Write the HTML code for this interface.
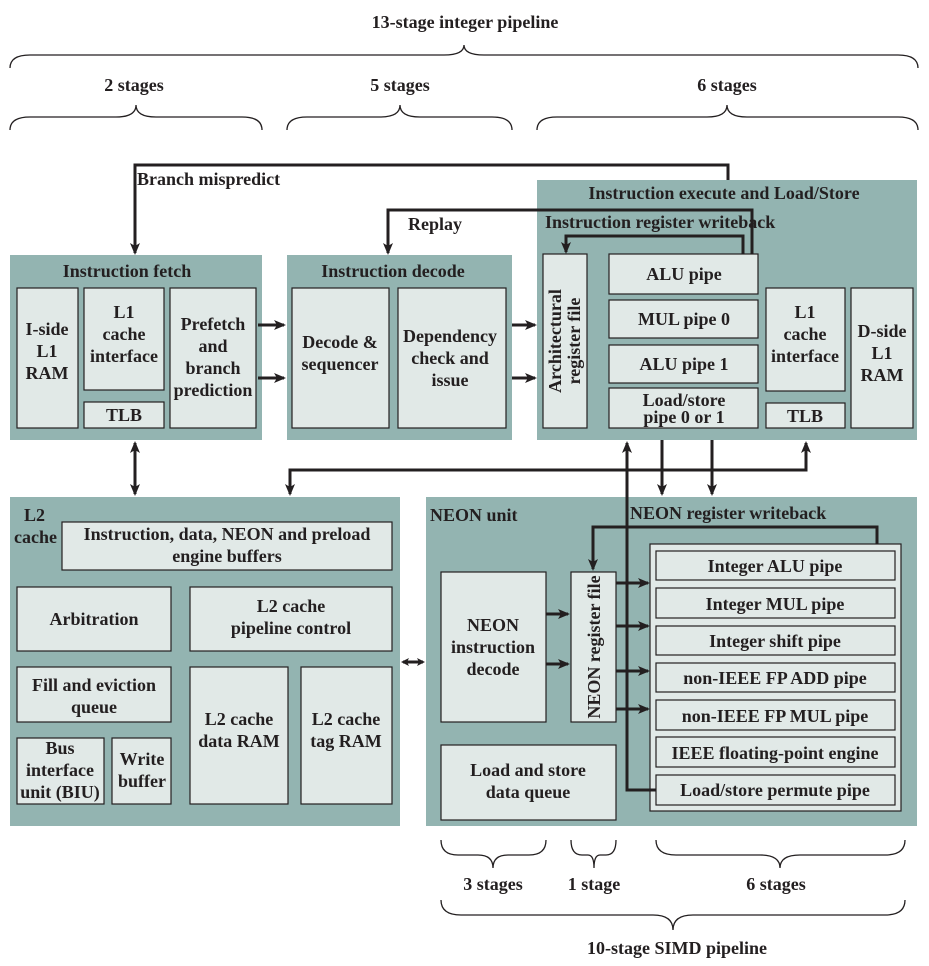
<!DOCTYPE html>
<html><head><meta charset="utf-8"><style>
body{margin:0;background:#fff}
svg{display:block}
text{font-family:"Liberation Serif",serif;font-weight:bold;font-size:18px;fill:#231f20}
.c{fill:#93b4b1}
.b{fill:#e1e9e7;stroke:#231f20;stroke-width:1.2}
.l{fill:none;stroke:#231f20;stroke-width:3}
.br{fill:none;stroke:#231f20;stroke-width:1.3}
</style></head><body>
<svg width="929" height="966" viewBox="0 0 929 966" xmlns="http://www.w3.org/2000/svg">
<defs><marker id="a" markerWidth="8" markerHeight="8" refX="6" refY="4" orient="auto-start-reverse" markerUnits="userSpaceOnUse"><path d="M0,0 L8,4 L0,8 L2,4z" fill="#231f20"/></marker>
<marker id="s" markerWidth="12" markerHeight="10" refX="10" refY="5" orient="auto-start-reverse" markerUnits="userSpaceOnUse"><path d="M0,0 L12,5 L0,10 L3,5z" fill="#231f20"/></marker></defs>

<text x="465" y="28" text-anchor="middle">13-stage integer pipeline</text>
<path class="br" d="M10 68 Q10 55 30 55 L444 55 Q464 55 464 45 Q464 55 484 55 L898 55 Q918 55 918 68"/>
<text x="134" y="91" text-anchor="middle">2 stages</text>
<path class="br" d="M10 130 Q10 117 30 117 L116 117 Q136 117 136 105 Q136 117 156 117 L242 117 Q262 117 262 130"/>
<text x="400" y="91" text-anchor="middle">5 stages</text>
<path class="br" d="M287 130 Q287 117 307 117 L380 117 Q400 117 400 105 Q400 117 420 117 L492 117 Q512 117 512 130"/>
<text x="727" y="91" text-anchor="middle">6 stages</text>
<path class="br" d="M537 130 Q537 117 557 117 L707 117 Q727 117 727 105 Q727 117 747 117 L898 117 Q918 117 918 130"/>

<rect class="c" x="10" y="255" width="252" height="185"/>
<rect class="c" x="287" y="255" width="225" height="185"/>
<rect class="c" x="537" y="180" width="380" height="260"/>
<rect class="c" x="10" y="497" width="390" height="329"/>
<rect class="c" x="426" y="497" width="491" height="329"/>

<text x="127" y="277" text-anchor="middle">Instruction fetch</text>
<text x="393" y="277" text-anchor="middle">Instruction decode</text>
<text x="724" y="199" text-anchor="middle">Instruction execute and Load/Store</text>
<text x="545" y="228">Instruction register writeback</text>
<text x="408" y="230">Replay</text>
<text x="137" y="185">Branch mispredict</text>

<rect class="b" x="17" y="288" width="61" height="140"/>
<text x="47" y="335" text-anchor="middle">I-side</text><text x="47" y="357" text-anchor="middle">L1</text><text x="47" y="379" text-anchor="middle">RAM</text>
<rect class="b" x="84" y="288" width="80" height="102"/>
<text x="124" y="318" text-anchor="middle">L1</text><text x="124" y="340" text-anchor="middle">cache</text><text x="124" y="362" text-anchor="middle">interface</text>
<rect class="b" x="84" y="402" width="80" height="26"/>
<text x="124" y="421" text-anchor="middle">TLB</text>
<rect class="b" x="170" y="288" width="86" height="140"/>
<text x="213" y="330" text-anchor="middle">Prefetch</text><text x="213" y="352" text-anchor="middle">and</text><text x="213" y="374" text-anchor="middle">branch</text><text x="213" y="396" text-anchor="middle">prediction</text>

<rect class="b" x="292" y="288" width="97" height="140"/>
<text x="340" y="348" text-anchor="middle">Decode &amp;</text><text x="340" y="370" text-anchor="middle">sequencer</text>
<rect class="b" x="398" y="288" width="108" height="140"/>
<text x="450" y="342" text-anchor="middle">Dependency</text><text x="450" y="364" text-anchor="middle">check and</text><text x="450" y="386" text-anchor="middle">issue</text>

<rect class="b" x="543" y="254" width="44" height="174"/>
<text transform="translate(561,341) rotate(-90)" text-anchor="middle">Architectural</text>
<text transform="translate(580,341) rotate(-90)" text-anchor="middle">register file</text>
<rect class="b" x="609" y="254" width="149" height="40"/><text x="684" y="280" text-anchor="middle">ALU pipe</text>
<rect class="b" x="609" y="300" width="149" height="38"/><text x="684" y="325" text-anchor="middle">MUL pipe 0</text>
<rect class="b" x="609" y="345" width="149" height="38"/><text x="684" y="370" text-anchor="middle">ALU pipe 1</text>
<rect class="b" x="609" y="388" width="149" height="40"/><text x="684" y="406" text-anchor="middle">Load/store</text><text x="684" y="423" text-anchor="middle">pipe 0 or 1</text>
<rect class="b" x="766" y="288" width="79" height="103"/>
<text x="805" y="318" text-anchor="middle">L1</text><text x="805" y="340" text-anchor="middle">cache</text><text x="805" y="362" text-anchor="middle">interface</text>
<rect class="b" x="766" y="403" width="79" height="25"/><text x="805" y="422" text-anchor="middle">TLB</text>
<rect class="b" x="851" y="288" width="62" height="140"/>
<text x="882" y="337" text-anchor="middle">D-side</text><text x="882" y="359" text-anchor="middle">L1</text><text x="882" y="381" text-anchor="middle">RAM</text>

<text x="24" y="521">L2</text><text x="14" y="543">cache</text>
<rect class="b" x="62" y="522" width="330" height="48"/>
<text x="227" y="540" text-anchor="middle">Instruction, data, NEON and preload</text>
<text x="227" y="562" text-anchor="middle">engine buffers</text>
<rect class="b" x="17" y="587" width="154" height="64"/><text x="94" y="625" text-anchor="middle">Arbitration</text>
<rect class="b" x="190" y="587" width="202" height="64"/><text x="291" y="612" text-anchor="middle">L2 cache</text><text x="291" y="634" text-anchor="middle">pipeline control</text>
<rect class="b" x="17" y="667" width="154" height="55"/><text x="94" y="691" text-anchor="middle">Fill and eviction</text><text x="94" y="713" text-anchor="middle">queue</text>
<rect class="b" x="190" y="667" width="98" height="137"/><text x="239" y="725" text-anchor="middle">L2 cache</text><text x="239" y="747" text-anchor="middle">data RAM</text>
<rect class="b" x="301" y="667" width="91" height="137"/><text x="346" y="725" text-anchor="middle">L2 cache</text><text x="346" y="747" text-anchor="middle">tag RAM</text>
<rect class="b" x="17" y="738" width="87" height="66"/><text x="60" y="754" text-anchor="middle">Bus</text><text x="60" y="776" text-anchor="middle">interface</text><text x="60" y="798" text-anchor="middle">unit (BIU)</text>
<rect class="b" x="112" y="738" width="59" height="66"/><text x="142" y="765" text-anchor="middle">Write</text><text x="142" y="787" text-anchor="middle">buffer</text>

<text x="430" y="521">NEON unit</text>
<text x="630" y="519">NEON register writeback</text>
<rect class="b" x="441" y="572" width="105" height="150"/>
<text x="493" y="631" text-anchor="middle">NEON</text><text x="493" y="653" text-anchor="middle">instruction</text><text x="493" y="675" text-anchor="middle">decode</text>
<rect class="b" x="571" y="572" width="45" height="150"/>
<text transform="translate(600,647) rotate(-90)" text-anchor="middle">NEON register file</text>
<rect class="b" x="441" y="745" width="175" height="75"/>
<text x="528" y="776" text-anchor="middle">Load and store</text><text x="528" y="798" text-anchor="middle">data queue</text>
<rect class="b" x="650" y="544" width="251" height="267"/>
<rect class="b" x="656" y="551" width="239" height="29"/><text x="775" y="572" text-anchor="middle">Integer ALU pipe</text>
<rect class="b" x="656" y="588" width="239" height="30"/><text x="775" y="610" text-anchor="middle">Integer MUL pipe</text>
<rect class="b" x="656" y="626" width="239" height="29"/><text x="775" y="647" text-anchor="middle">Integer shift pipe</text>
<rect class="b" x="656" y="663" width="239" height="29"/><text x="775" y="684" text-anchor="middle">non-IEEE FP ADD pipe</text>
<rect class="b" x="656" y="700" width="239" height="30"/><text x="775" y="722" text-anchor="middle">non-IEEE FP MUL pipe</text>
<rect class="b" x="656" y="737" width="239" height="30"/><text x="775" y="759" text-anchor="middle">IEEE floating-point engine</text>
<rect class="b" x="656" y="775" width="239" height="30"/><text x="775" y="796" text-anchor="middle">Load/store permute pipe</text>

<path class="l" d="M728 180 L728 165 L135 165 L135 253" marker-end="url(#s)"/>
<path class="l" d="M752 254 L752 210 L388 210 L388 253" marker-end="url(#s)"/>
<path class="l" d="M743 254 L743 236 L566 236 L566 252" marker-end="url(#s)"/>
<path class="l" d="M258 325 L284 325" marker-end="url(#s)"/>
<path class="l" d="M258 378 L284 378" marker-end="url(#s)"/>
<path class="l" d="M512 325 L535 325" marker-end="url(#s)"/>
<path class="l" d="M512 378 L535 378" marker-end="url(#s)"/>
<path class="l" d="M135 443 L135 494" marker-start="url(#s)" marker-end="url(#s)"/>
<path class="l" d="M290 494 L290 470 L806 470 L806 443" marker-start="url(#s)" marker-end="url(#s)"/>
<path class="l" d="M662 440 L662 494" marker-end="url(#s)"/>
<path class="l" d="M712 440 L712 494" marker-end="url(#s)"/>
<path class="l" d="M656 790 L627 790 L627 443" marker-end="url(#s)"/>
<path class="l" d="M403 662 L423 662" marker-start="url(#a)" marker-end="url(#a)"/>
<path class="l" d="M877 544 L877 527 L593 527 L593 569" marker-end="url(#s)"/>
<path class="l" d="M546 614 L568 614" marker-end="url(#s)"/>
<path class="l" d="M546 664 L568 664" marker-end="url(#s)"/>
<path class="l" d="M616 583 L648 583" marker-end="url(#s)"/>
<path class="l" d="M616 626 L648 626" marker-end="url(#s)"/>
<path class="l" d="M616 671 L648 671" marker-end="url(#s)"/>
<path class="l" d="M616 709 L648 709" marker-end="url(#s)"/>

<path class="br" d="M441 840 Q441 855 458 855 L478 855 Q493 855 493 868 Q493 855 508 855 L529 855 Q546 855 546 840"/>
<text x="493" y="890" text-anchor="middle">3 stages</text>
<path class="br" d="M571 840 Q571 855 582 855 L588 855 Q594 855 594 868 Q594 855 600 855 L606 855 Q616 855 616 840"/>
<text x="594" y="890" text-anchor="middle">1 stage</text>
<path class="br" d="M656 840 Q656 855 676 855 L760 855 Q780 855 780 868 Q780 855 800 855 L885 855 Q905 855 905 840"/>
<text x="776" y="890" text-anchor="middle">6 stages</text>
<path class="br" d="M441 900 Q441 915 461 915 L653 915 Q673 915 673 930 Q673 915 693 915 L885 915 Q905 915 905 900"/>
<text x="677" y="954" text-anchor="middle">10-stage SIMD pipeline</text>
</svg>
</body></html>
